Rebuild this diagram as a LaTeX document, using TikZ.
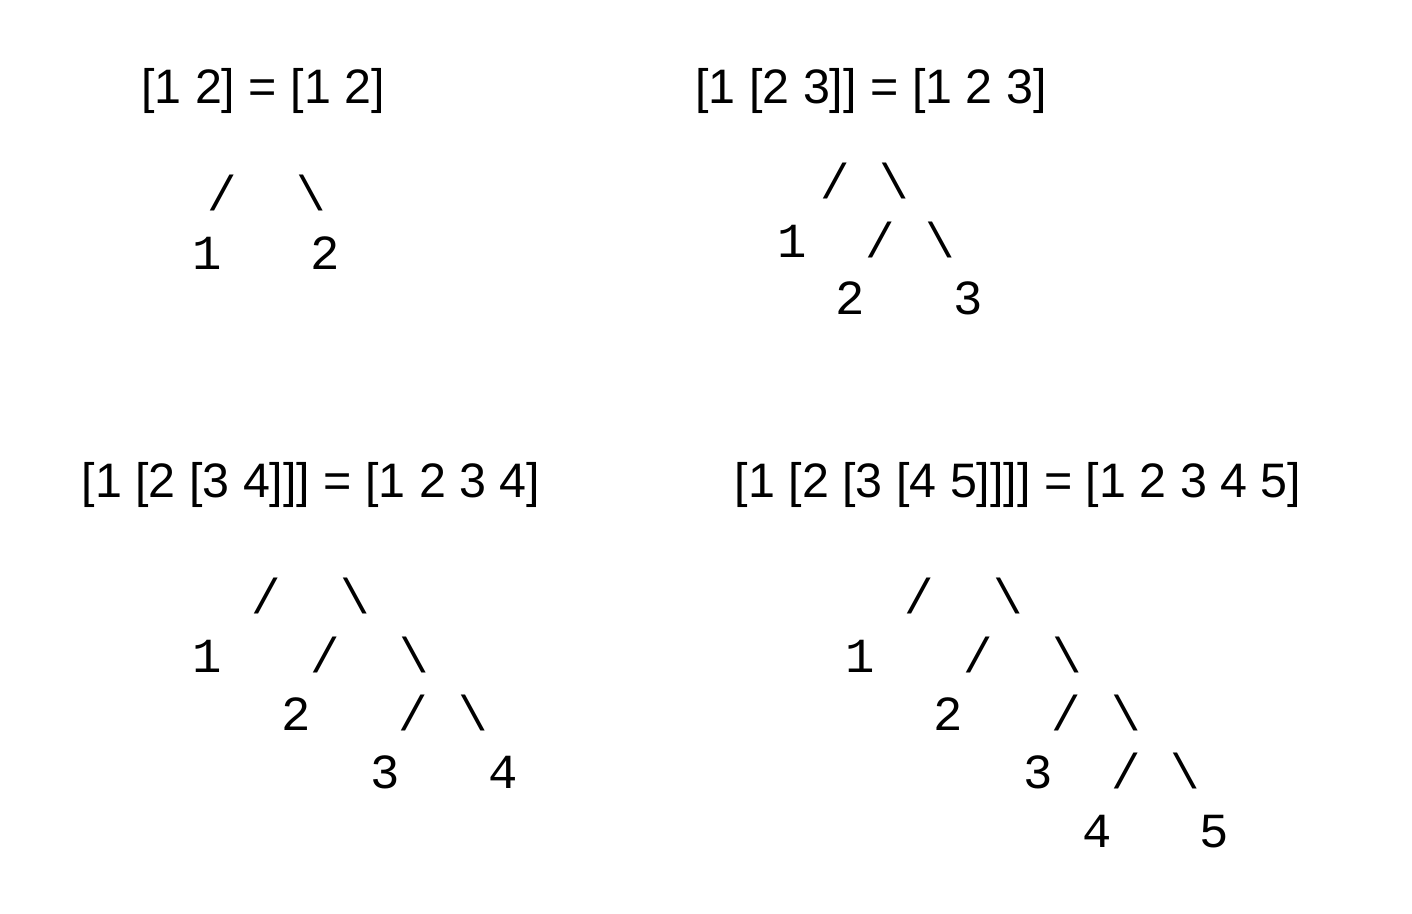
\documentclass[tikz,border=0pt]{standalone}
\usepackage{fontspec}
\setmainfont{Liberation Sans}
\newfontfamily\monofont{Liberation Mono}
\usetikzlibrary{positioning}

\newcommand{\titlesize}{\fontsize{24.2}{29}\selectfont}
\newcommand{\treesize}{\fontsize{24.5}{29}\selectfont}
\newcommand{\bs}{\textbackslash}

\tikzset{
  title/.style={anchor=base, inner sep=0pt, font=\titlesize},
  leaf/.style={anchor=base, inner sep=0pt, font=\monofont\treesize},
}

\begin{document}
\begin{tikzpicture}[x=0.5pt,y=-0.5pt]
  \useasboundingbox (0,0) rectangle (1412,914);

  % [1 2]
  \node[title] (ta) at (263,104) {[1 2] = [1 2]};
  \node[leaf] (a0l) at (222,211) {/};
  \node[leaf] (a0r) at (311,211) {\bs};
  \node[leaf] (a1)  at (207,270) {1};
  \node[leaf] (a2)  at (325,270) {2};

  % [1 [2 3]]
  \node[title] (tb) at (871,104) {[1 [2 3]] = [1 2 3]};
  \node[leaf] (b0l) at (835,199) {/};
  \node[leaf] (b0r) at (894,199) {\bs};
  \node[leaf] (b1)  at (792,258) {1};
  \node[leaf] (b1l) at (880,258) {/};
  \node[leaf] (b1r) at (940,258) {\bs};
  \node[leaf] (b2)  at (850,315) {2};
  \node[leaf] (b3)  at (968,315) {3};

  % [1 [2 [3 4]]]
  \node[title] (tc) at (311,497) {[1 [2 [3 4]]] = [1 2 3 4]};
  \node[leaf] (c0l) at (266,613) {/};
  \node[leaf] (c0r) at (355,613) {\bs};
  \node[leaf] (c1)  at (207,672) {1};
  \node[leaf] (c1l) at (325,672) {/};
  \node[leaf] (c1r) at (414,672) {\bs};
  \node[leaf] (c2)  at (296,730) {2};
  \node[leaf] (c2l) at (413,730) {/};
  \node[leaf] (c2r) at (473,730) {\bs};
  \node[leaf] (c3)  at (385,788) {3};
  \node[leaf] (c4)  at (503,788) {4};

  % [1 [2 [3 [4 5]]]]
  \node[title] (td) at (1018,497) {[1 [2 [3 [4 5]]]] = [1 2 3 4 5]};
  \node[leaf] (d0l) at (919,613) {/};
  \node[leaf] (d0r) at (1008,613) {\bs};
  \node[leaf] (d1)  at (860,672) {1};
  \node[leaf] (d1l) at (978,672) {/};
  \node[leaf] (d1r) at (1067,672) {\bs};
  \node[leaf] (d2)  at (948,730) {2};
  \node[leaf] (d2l) at (1066,730) {/};
  \node[leaf] (d2r) at (1126,730) {\bs};
  \node[leaf] (d3)  at (1038,788) {3};
  \node[leaf] (d3l) at (1126,788) {/};
  \node[leaf] (d3r) at (1185,788) {\bs};
  \node[leaf] (d4)  at (1097,847) {4};
  \node[leaf] (d5)  at (1214,847) {5};
\end{tikzpicture}
\end{document}
